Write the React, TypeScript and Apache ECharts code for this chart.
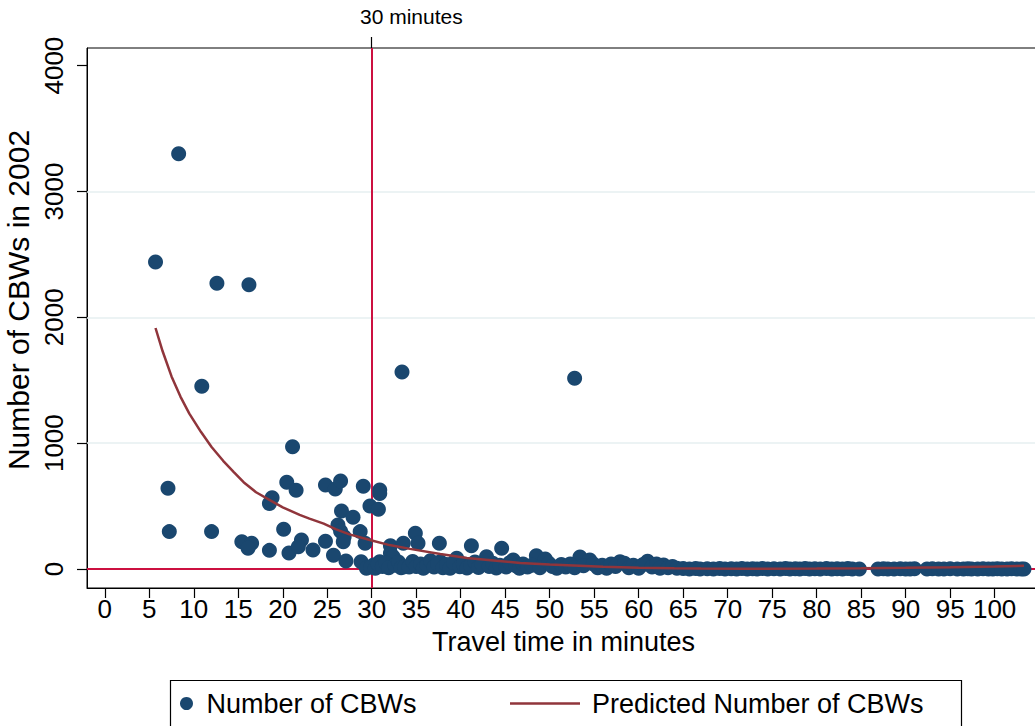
import React, { useEffect, useRef } from "react";
import * as echarts from "echarts";

// Number of CBWs by travel time (minutes) — isolated high values
const highPoints: [number, number][] = [
  [5.7, 2440], [8.3, 3300], [10.9, 1452], [12.6, 2271], [16.2, 2258],
  [21.1, 972], [33.4, 1566], [52.8, 1515],
];

// Mid-range observations
const midPoints: [number, number][] = [
  [7.1, 641], [7.25, 297], [12.0, 297], [18.8, 567], [18.5, 520],
  [20.45, 690], [21.5, 625], [20.1, 315], [24.8, 668], [25.9, 636],
  [26.5, 700], [29.05, 657], [30.9, 628], [30.9, 600], [29.8, 500],
  [30.75, 474], [26.6, 460], [27.9, 411], [26.2, 350], [26.5, 300],
  [28.7, 297], [26.9, 257], [26.8, 217], [29.25, 204], [15.4, 217],
  [16.5, 204], [16.1, 165], [18.5, 148], [20.7, 128], [22.1, 230],
  [21.75, 177], [23.4, 151], [24.8, 220], [25.7, 110], [32.1, 185],
  [32.1, 125], [32.4, 98], [33.55, 204], [34.9, 284], [35.2, 204],
  [37.6, 204], [41.2, 185], [44.6, 164], [42.9, 98], [48.5, 105],
  [53.4, 95],
];

// Low observations (roughly 0–90)
const lowPoints: [number, number][] = [
  [27.1, 64], [28.8, 58], [29.4, 6], [30.2, 32], [30.9, 58], [37.7, 58],
  [39.55, 85], [45.9, 72], [49.5, 80], [54.5, 72], [57.9, 58], [61.0, 62],
  [62.8, 32],
  [29.9, 15], [30.4, 5], [30.7, 40], [31.2, 20], [31.6, 45], [31.9, 10],
  [32.6, 30], [33.0, 55], [33.3, 10], [33.7, 18], [34.2, 15], [34.6, 60],
  [35.0, 20], [35.5, 40], [35.8, 5], [36.2, 30], [36.6, 65], [37.0, 15],
  [37.4, 40], [38.0, 10], [38.4, 35], [38.8, 5], [39.2, 50], [39.9, 18],
  [40.3, 40], [40.7, 8], [41.1, 30], [41.6, 55], [42.0, 12], [42.4, 35],
  [43.2, 20], [43.6, 45], [44.0, 8], [44.4, 30], [45.1, 15], [45.5, 50],
  [46.2, 25], [46.6, 5], [47.0, 40], [47.5, 15], [48.0, 30], [48.9, 10],
  [49.9, 45], [50.3, 20], [50.8, 5], [51.3, 35], [51.8, 15], [52.3, 40],
  [52.8, 10], [53.8, 25], [54.9, 40], [55.4, 10], [55.9, 30], [56.4, 5],
  [56.9, 40], [57.4, 20], [58.4, 45], [58.9, 10], [59.4, 30], [60.0, 5],
  [60.5, 35], [61.5, 15], [62.0, 40], [62.4, 5], [63.3, 10], [63.8, 20],
  [64.3, 5],
];

// Observations at (or very near) zero
const zeroRow: [number, number][] = [
  [65.0, 3], [65.7, 0], [66.4, 4], [66.9, 0], [67.7, 2], [68.4, 0], [69.1, 3],
  [69.7, 0], [70.4, 2], [71.0, 0], [71.6, 4], [72.2, 0], [72.8, 2], [73.3, 0],
  [73.9, 3], [74.5, 0], [75.2, 2], [75.9, 0], [76.5, 3], [77.0, 0], [77.6, 2],
  [78.1, 0], [78.7, 3], [79.2, 0], [79.8, 2], [80.4, 0], [81.1, 3], [81.7, 0],
  [82.3, 2], [82.9, 0], [83.5, 3], [84.0, 0], [84.8, 0], [86.9, 0], [87.5, 2],
  [88.0, 0], [88.7, 0], [89.4, 2], [90.0, 0], [90.5, 0], [91.0, 2], [92.4, 0],
  [93.0, 2], [93.7, 0], [94.3, 0], [95.0, 2], [95.8, 0], [96.5, 0], [97.0, 2],
  [97.4, 0], [98.1, 0], [98.7, 2], [99.3, 0], [99.8, 0], [100.3, 2], [100.8, 0],
  [101.4, 0], [101.9, 2], [102.5, 0], [103.0, 0], [103.3, 0],
];

// Predicted number of CBWs (fitted curve)
const predX = [5.7, 6.5, 7.5, 8.5, 9.5, 10.8, 12, 13.3, 14.5, 15.6, 17, 18.6, 20, 21.9, 23, 24.6, 26, 27.5, 29.8, 32, 34.3, 37.7, 40.7, 44, 46.7, 50, 52, 56, 60, 64, 67, 72, 80, 85, 90, 95, 100, 103.3];
const predY = [1915, 1730, 1530, 1370, 1235, 1090, 970, 860, 770, 690, 610, 545, 490, 430, 400, 360, 315, 275, 230, 190, 160, 120, 88, 65, 48, 35, 30, 18, 10, 5, 3, 2, 3, 5, 9, 14, 20, 26];

const xTicks = [0, 5, 10, 15, 20, 25, 30, 35, 40, 45, 50, 55, 60, 65, 70, 75, 80, 85, 90, 95, 100];
const yTicks = [0, 1000, 2000, 3000, 4000];
const gridValues = [1000, 2000, 3000];
const cutoffMinutes = 30;

const FONT = "Liberation Sans";
const NAVY = "#1a476f";
const MAROON = "#90353b";
const RED = "#cc1040";

export default function App() {
  const ref = useRef<HTMLDivElement>(null);
  useEffect(() => {
    const chart = echarts.init(ref.current!, null, { renderer: "svg" });
    const scatterData = [...highPoints, ...midPoints, ...lowPoints, ...zeroRow];
    const lineData = predX.map((x, i) => [x, predY[i]]);
    chart.setOption({
      animation: false,
      textStyle: { fontFamily: FONT, color: "#000" },
      grid: {
        left: 87, top: 48, right: -5, bottom: 138,
        containLabel: false, outerBoundsMode: "none",
        show: true, borderColor: "#000", borderWidth: 1, backgroundColor: "transparent",
      },
      xAxis: [
        {
          type: "value", min: -2, max: 105.1, position: "bottom",
          axisLine: { show: true, onZero: false, lineStyle: { color: "#000", width: 1 } },
          axisTick: { show: true, customValues: xTicks, length: 10, lineStyle: { color: "#000", width: 1.2 } },
          axisLabel: { customValues: xTicks, fontSize: 26, color: "#000", margin: 8, fontFamily: FONT, formatter: (v: number) => String(v) },
          splitLine: { show: false },
          name: "Travel time in minutes", nameLocation: "middle", nameGap: 40,
          nameTextStyle: { fontSize: 27, color: "#000", fontFamily: FONT },
        },
        {
          type: "value", min: -2, max: 105.1, position: "top",
          axisLine: { show: false, onZero: false },
          axisTick: { show: true, customValues: [cutoffMinutes], length: 11, lineStyle: { color: "#000", width: 1.2 } },
          axisLabel: { show: false },
          splitLine: { show: false },
        },
      ],
      yAxis: {
        type: "value", min: -151, max: 4140,
        axisLine: { show: true, onZero: false, lineStyle: { color: "#000", width: 1 } },
        axisTick: { show: true, customValues: yTicks, length: 10, lineStyle: { color: "#000", width: 1.2 } },
        axisLabel: { customValues: yTicks, rotate: 90, fontSize: 26, color: "#000", margin: 20, fontFamily: FONT, formatter: (v: number) => String(v) },
        splitLine: { show: false },
        name: "Number of CBWs in 2002", nameLocation: "middle", nameGap: 45,
        nameTextStyle: { fontSize: 30, color: "#000", fontFamily: FONT, padding: [0, 0, 0, 36] },
      },
      legend: [
        {
          data: [{ name: "Number of CBWs", icon: "circle" }],
          left: 180, top: 690, itemWidth: 30, itemHeight: 13, padding: 0,
          selectedMode: false,
          textStyle: { fontSize: 27, color: "#000", fontFamily: FONT },
        },
        {
          data: [{ name: "Predicted Number of CBWs", icon: "rect" }],
          left: 510, top: 690, itemWidth: 70, itemHeight: 2.5, padding: 0,
          selectedMode: false,
          textStyle: { fontSize: 27, color: "#000", fontFamily: FONT, padding: [0, 0, 0, 7] },
        },
      ],
      graphic: [
        {
          type: "rect", left: 168, top: 678, silent: true,
          shape: { width: 791, height: 60 },
          style: { fill: "none", stroke: "#000", lineWidth: 1.2 },
        },
        {
          type: "text", left: 360, top: 6, silent: true,
          style: { text: "30 minutes", fontSize: 21, fontFamily: FONT, fill: "#000" },
        },
      ],
      series: [
        {
          name: "Number of CBWs",
          type: "scatter",
          z: 2,
          data: scatterData,
          symbol: "circle",
          symbolSize: 15,
          itemStyle: { color: NAVY, opacity: 1 },
          markLine: {
            z: 1,
            silent: true,
            symbol: ["none", "none"],
            label: { show: false },
            emphasis: { disabled: true },
            data: [
              ...gridValues.map((v) => ({ yAxis: v, lineStyle: { color: "#e6eff1", width: 1.5, type: "solid" } })),
              { xAxis: cutoffMinutes, lineStyle: { color: RED, width: 2, type: "solid" } },
              { yAxis: 0, lineStyle: { color: RED, width: 2, type: "solid" } },
            ],
          },
        },
        {
          name: "Predicted Number of CBWs",
          type: "line",
          z: 3,
          data: lineData,
          symbol: "none",
          lineStyle: { color: MAROON, width: 2.5 },
          itemStyle: { color: MAROON },
        },
      ],
    });
    return () => chart.dispose();
  }, []);
  return (
    <div
      ref={ref}
      style={{ position: "absolute", left: 0, top: 0, width: 1035, height: 726 }}
    />
  );
}
